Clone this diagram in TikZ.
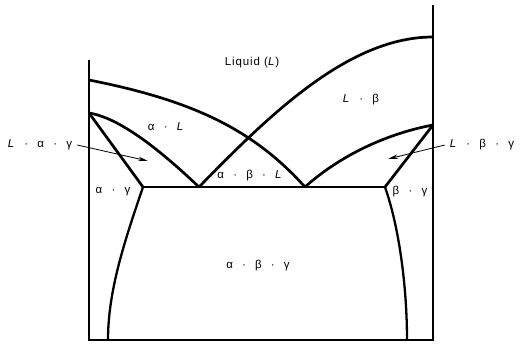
\documentclass[tikz,border=0pt]{standalone}
\usepackage{fontspec}
\setmainfont{Liberation Sans}[LetterSpace=8]
\usetikzlibrary{arrows.meta}
\newcommand{\dt}{\hspace{0.8em}·\hspace{0.8em}}
\begin{document}
\begin{tikzpicture}[x=1pt,y=-1pt,
  axis/.style={line width=1.7pt},
  bound/.style={line width=2.7pt,line join=round},
  solvus/.style={line width=2.3pt},
  lbl/.style={font=\fontsize{11.5}{13}\selectfont,inner sep=1pt},
  pointer/.style={line width=0.8pt,-{Stealth[length=10pt,width=4.5pt]}}]
\useasboundingbox (0,0) rectangle (522,344);
% key points
\coordinate (LT) at (89,60);
\coordinate (LB) at (89,340);
\coordinate (RT) at (433,5);
\coordinate (RB) at (433,340);
\coordinate (Ta) at (89,80);
\coordinate (Tb) at (433,37);
\coordinate (Pa) at (89,113);
\coordinate (Pb) at (433,125);
\coordinate (Ea) at (143,187);
\coordinate (Eb) at (199,187);
\coordinate (Ec) at (305,187);
\coordinate (Ed) at (385,187);
\coordinate (Fa) at (108,340);
\coordinate (Fb) at (407,340);
% frame
\draw[axis] (LT) -- (LB) -- (RB) -- (RT);
% liquidus surfaces
\draw[bound] (Ta) .. controls (190,100) and (252,128) .. (Ec);
\draw[bound] (Tb) .. controls (350,37) and (272,112) .. (Eb);
% alpha side
\draw[bound] (Pa) .. controls (120,118) and (160,150) .. (Eb);
\draw[bound] (Pa) -- (Ea);
% beta side
\draw[bound] (Pb) .. controls (380,135) and (335,160) .. (Ec);
\draw[bound] (Pb) -- (Ed);
% eutectic plane
\draw[bound] (Ea) -- (Ed);
% solvus lines
\draw[solvus] (Ea) .. controls (125,240) and (108,290) .. (Fa);
\draw[solvus] (Ed) .. controls (400,230) and (407,290) .. (Fb);
% labels
\node[lbl] (liq) at (252,63) {Liquid (\textit{L})};
\node[lbl] (aL) at (166,127) {α\dt\textit{L}};
\node[lbl] (Lb) at (361,100) {\textit{L}\dt β};
\node[lbl] (abL) at (250,176) {α\dt β\dt\textit{L}};
\node[lbl] (ag) at (113,192) {α\dt γ};
\node[lbl] (bg) at (410,192) {β\dt γ};
\node[lbl] (abg) at (258,266) {α\dt β\dt γ};
\node[lbl] (Lag) at (40,145) {\textit{L}\dt α\dt γ};
\node[lbl] (Lbg) at (482,145) {\textit{L}\dt β\dt γ};
% pointers
\coordinate (tipA) at (148,161);
\coordinate (tipB) at (388,159);
\draw[pointer] (Lag.east) ++(4,0) -- (tipA);
\draw[pointer] (Lbg.west) ++(-4,0) -- (tipB);
\end{tikzpicture}
\end{document}
